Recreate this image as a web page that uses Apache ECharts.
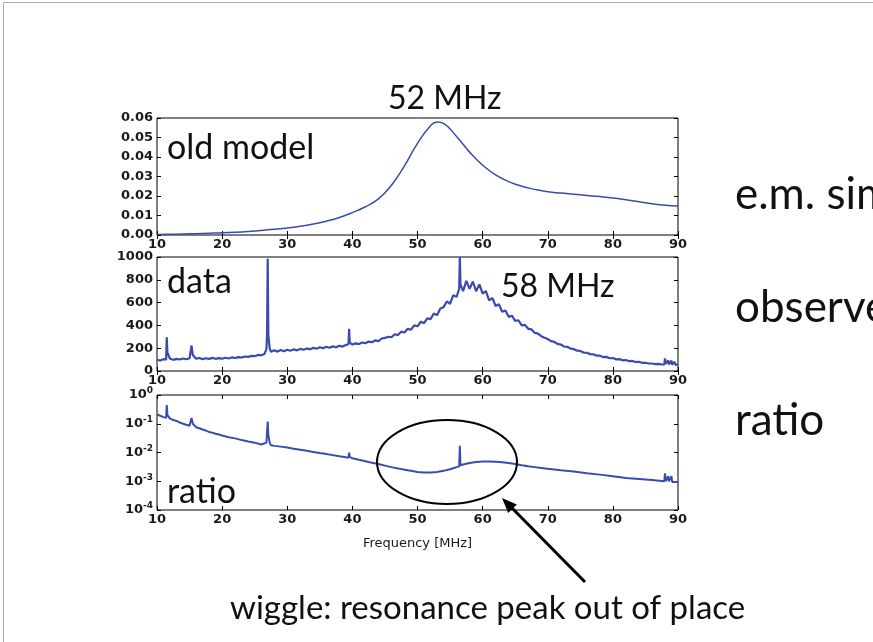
<!DOCTYPE html>
<html>
<head>
<meta charset="utf-8">
<script src="https://cdn.jsdelivr.net/npm/echarts@6/dist/echarts.min.js"></script>
<style>
    html, body { margin: 0; padding: 0; background: #fff; }
    #chart { width: 873px; height: 642px; }
</style>
</head>
<body>
<div id="chart"></div>
<script>
// frequency axis ticks [MHz]
var freqTicks = [10, 20, 30, 40, 50, 60, 70, 80, 90];

// old model, [freq, value]
var oldModel = [
    [10, 0.0003], [12, 0.0004], [14, 0.0005], [16, 0.0007], [18, 0.0009], [20, 0.0011],
    [22, 0.0014], [24, 0.0018], [26, 0.0023], [28, 0.0029], [30, 0.0036], [32, 0.0045],
    [34, 0.0056], [36, 0.0071], [38, 0.0090], [40, 0.0115], [42, 0.0145], [44, 0.0185],
    [46, 0.0255], [48, 0.0355], [50, 0.0470], [52, 0.0560], [53, 0.0580], [54, 0.0572],
    [56, 0.0505], [58, 0.0425], [60, 0.0358], [62, 0.0308], [64, 0.0274], [66, 0.0250],
    [68, 0.0234], [70, 0.0222], [72, 0.0215], [74, 0.0209], [76, 0.0203], [78, 0.0197],
    [80, 0.0190], [82, 0.0181], [84, 0.0171], [86, 0.0160], [88, 0.0152], [90, 0.0149]
];

// measured spectrum, [freq, counts]
var dataSpectrum = [
    [10.0, 98], [10.5, 92], [11.0, 104], [11.4, 100], [11.5, 295], [11.6, 160], [12.0, 108],
    [12.5, 98], [13.0, 106], [13.5, 101], [14.0, 110], [14.5, 103], [15.0, 112], [15.3, 225],
    [15.5, 140], [16.0, 108], [16.5, 114], [17.0, 104], [17.5, 112], [18.0, 106], [18.5, 115],
    [19.0, 107], [19.5, 113], [20.0, 108], [20.5, 116], [21.0, 110], [21.5, 119], [22.0, 114],
    [22.5, 122], [23.0, 118], [23.5, 127], [24.0, 124], [24.5, 133], [25.0, 130], [25.5, 141],
    [26.0, 138], [26.5, 150], [26.8, 190], [26.9, 320], [27.0, 985], [27.1, 310], [27.3, 200],
    [27.5, 168], [28.0, 182], [28.5, 170], [29.0, 185], [29.5, 174], [30.0, 186], [30.5, 178],
    [31.0, 190], [31.5, 181], [32.0, 194], [32.5, 186], [33.0, 198], [33.5, 190], [34.0, 203],
    [34.5, 195], [35.0, 208], [35.5, 199], [36.0, 213], [36.5, 204], [37.0, 216], [37.5, 208],
    [38.0, 222], [38.5, 214], [39.0, 228], [39.4, 235], [39.5, 370], [39.6, 250], [40.0, 232],
    [40.5, 242], [41.0, 236], [41.5, 250], [42.0, 244], [42.5, 258], [43.0, 252], [43.5, 268],
    [44.0, 262], [44.5, 285], [45.0, 290], [45.5, 300], [46.0, 296], [46.5, 322], [47.0, 315],
    [47.5, 345], [48.0, 338], [48.5, 370], [49.0, 362], [49.5, 400], [50.0, 392], [50.5, 432],
    [51.0, 420], [51.5, 462], [52.0, 455], [52.5, 505], [53.0, 490], [53.5, 548], [54.0, 560],
    [54.5, 610], [55.0, 590], [55.5, 665], [56.0, 650], [56.4, 720], [56.5, 1000], [56.6, 760],
    [57.0, 700], [57.5, 790], [58.0, 720], [58.5, 785], [59.0, 700], [59.5, 760], [60.0, 680],
    [60.5, 700], [61.0, 620], [61.5, 640], [62.0, 570], [62.5, 585], [63.0, 520], [63.5, 530],
    [64.0, 475], [64.5, 485], [65.0, 440], [65.5, 445], [66.0, 400], [66.5, 405], [67.0, 370],
    [67.5, 365], [68.0, 335], [68.5, 328], [69.0, 305], [69.5, 292], [70.0, 280], [70.5, 262],
    [71.0, 255], [71.5, 238], [72.0, 232], [72.5, 215], [73.0, 212], [73.5, 196], [74.0, 192],
    [74.5, 178], [75.0, 176], [75.5, 162], [76.0, 160], [76.5, 148], [77.0, 146], [77.5, 134],
    [78.0, 134], [78.5, 122], [79.0, 124], [79.5, 112], [80.0, 114], [80.5, 102], [81.0, 104],
    [81.5, 94], [82.0, 96], [82.5, 86], [83.0, 88], [83.5, 79], [84.0, 80], [84.5, 72],
    [85.0, 72], [85.5, 66], [86.0, 66], [86.5, 61], [87.0, 62], [87.5, 57], [87.9, 58],
    [88.0, 110], [88.1, 62], [88.5, 92], [88.6, 58], [89.0, 90], [89.1, 56], [89.5, 80],
    [89.6, 54], [90.0, 55]
];

// ratio data / model, [freq, ratio]
var ratioSpectrum = [
    [10.0, 0.21], [10.5, 0.19], [11.0, 0.17], [11.4, 0.16], [11.5, 0.45], [11.6, 0.2],
    [12.0, 0.15], [12.5, 0.135], [13.0, 0.125], [13.5, 0.11], [14.0, 0.1], [14.5, 0.092],
    [15.0, 0.085], [15.3, 0.16], [15.5, 0.1], [16.0, 0.076], [16.5, 0.07], [17.0, 0.063],
    [17.5, 0.058], [18.0, 0.052], [18.5, 0.049], [19.0, 0.045], [19.5, 0.042], [20.0, 0.039],
    [21.0, 0.034], [22.0, 0.031], [23.0, 0.027], [24.0, 0.024], [25.0, 0.022], [26.0, 0.019],
    [26.8, 0.022], [27.0, 0.12], [27.1, 0.04], [27.3, 0.022], [27.5, 0.018], [28.0, 0.017],
    [29.0, 0.016], [30.0, 0.015], [31.0, 0.0135], [32.0, 0.0125], [33.0, 0.0115], [34.0, 0.0105],
    [35.0, 0.0096], [36.0, 0.0088], [37.0, 0.0081], [38.0, 0.0074], [39.0, 0.0068], [39.4, 0.0066],
    [39.5, 0.0098], [39.6, 0.007], [40.0, 0.0063], [41.0, 0.0056], [42.0, 0.005], [43.0, 0.0044],
    [44.0, 0.004], [45.0, 0.0035], [46.0, 0.0031], [47.0, 0.0028], [48.0, 0.0025], [49.0, 0.0023],
    [50.0, 0.0021], [51.0, 0.002], [52.0, 0.002], [53.0, 0.0021], [54.0, 0.0023], [55.0, 0.0026],
    [56.0, 0.0031], [56.4, 0.0033], [56.5, 0.017], [56.6, 0.0036], [57.0, 0.0038], [58.0, 0.0043],
    [59.0, 0.0047], [60.0, 0.0049], [61.0, 0.0049], [62.0, 0.0048], [63.0, 0.0046], [64.0, 0.0043],
    [65.0, 0.004], [66.0, 0.0036], [67.0, 0.0033], [68.0, 0.0031], [69.0, 0.0029], [70.0, 0.0027],
    [72.0, 0.0024], [74.0, 0.0022], [76.0, 0.0019], [78.0, 0.0017], [80.0, 0.0015], [82.0, 0.0013],
    [84.0, 0.0012], [86.0, 0.0011], [87.9, 0.001], [88.0, 0.0019], [88.1, 0.001], [88.5, 0.0015],
    [88.6, 0.001], [89.0, 0.0015], [89.1, 0.00095], [90.0, 0.00095]
];

var lineColor = '#3a4bb0';
var tickFont = {color: '#1a1a1a', fontFamily: 'DejaVu Sans', fontWeight: 'bold', fontSize: 13};

function xAxisFor(grid, pos, showLabel) {
    return {
        type: 'value', gridIndex: grid, position: pos,
        min: freqTicks[0], max: freqTicks[freqTicks.length - 1], interval: 10,
        axisLine: {show: false},
        axisTick: {show: true, inside: true, length: 4, lineStyle: {color: '#000'}},
        splitLine: {show: false},
        axisLabel: Object.assign({show: showLabel, margin: 3}, tickFont)
    };
}

function yAxisFor(grid, pos, showLabel, extra) {
    return Object.assign({
        type: 'value', gridIndex: grid, position: pos,
        axisLine: {show: false},
        axisTick: {show: true, inside: true, length: 4, lineStyle: {color: '#000'}},
        splitLine: {show: false},
        axisLabel: Object.assign({show: showLabel, margin: 4}, tickFont)
    }, extra);
}

var y0 = {min: 0, max: 0.06, interval: 0.01};
var y1 = {min: 0, max: 1000, interval: 200};
var y2 = {type: 'log', logBase: 10, min: 0.0001, max: 1, splitNumber: 4};

var chart = echarts.init(document.getElementById('chart'));

var yAxes = [
    yAxisFor(0, 'left', true, y0),
    yAxisFor(1, 'left', true, y1),
    yAxisFor(2, 'left', true, y2),
    yAxisFor(0, 'right', false, y0),
    yAxisFor(1, 'right', false, y1),
    yAxisFor(2, 'right', false, y2)
];
yAxes[0].axisLabel.formatter = function (v) { return v.toFixed(2); };
yAxes[1].axisLabel.formatter = function (v) { return String(v); };
yAxes[2].axisLabel.formatter = function (v) {
    var e = Math.round(Math.log10(v));
    return '{b|10}{s|' + e + '}';
};
yAxes[2].axisLabel.rich = {
    b: {fontFamily: 'DejaVu Sans', fontWeight: 'bold', fontSize: 13, color: '#1a1a1a'},
    s: {fontFamily: 'DejaVu Sans', fontWeight: 'bold', fontSize: 9, color: '#1a1a1a', padding: [0, 0, 8, 0]}
};

var xAxes = [
    xAxisFor(0, 'bottom', true),
    xAxisFor(1, 'bottom', true),
    xAxisFor(2, 'bottom', true),
    xAxisFor(0, 'top', false),
    xAxisFor(1, 'top', false),
    xAxisFor(2, 'top', false)
];
xAxes[2].name = 'Frequency [MHz]';
xAxes[2].nameLocation = 'middle';
xAxes[2].nameGap = 27;
xAxes[2].nameTextStyle = {fontFamily: 'DejaVu Sans', fontSize: 13, color: '#1a1a1a'};

function lineSeries(idx, data, smooth, width) {
    return {
        type: 'line', xAxisIndex: idx, yAxisIndex: idx,
        data: data, smooth: smooth, showSymbol: false, symbol: 'none',
        lineStyle: {color: lineColor, width: width},
        z: 3
    };
}

function label(text, x, y, size, family) {
    return {
        type: 'text', left: x, top: y, z: 10,
        style: {text: text, font: 'normal ' + size + 'px ' + family, fill: '#111'}
    };
}

var option = {
    backgroundColor: '#fff',
    animation: false,
    grid: [
        {left: 157, width: 521, top: 118, height: 117, show: true, borderColor: '#000', borderWidth: 1},
        {left: 157, width: 521, top: 257, height: 114, show: true, borderColor: '#000', borderWidth: 1},
        {left: 157, width: 521, top: 395, height: 115, show: true, borderColor: '#000', borderWidth: 1}
    ],
    xAxis: xAxes,
    yAxis: yAxes,
    series: [
        lineSeries(0, oldModel, true, 1.5),
        lineSeries(1, dataSpectrum, false, 2.2),
        lineSeries(2, ratioSpectrum, false, 2)
    ],
    graphic: [
        // slide frame
        {type: 'line', shape: {x1: 3, y1: 2.5, x2: 873, y2: 2.5}, style: {stroke: '#aaa', lineWidth: 1}},
        {type: 'line', shape: {x1: 3.5, y1: 2, x2: 3.5, y2: 642}, style: {stroke: '#aaa', lineWidth: 1}},
        // in-plot labels
        label('52 MHz', 388, 83, 32, 'Lato'),
        label('old model', 167, 131, 34, 'Lato'),
        label('data', 167, 265, 34, 'Lato'),
        label('58 MHz', 501, 271, 32, 'Lato'),
        label('ratio', 167, 475, 34, 'Lato'),
        // slide bullets
        label('e.m. simulation', 735, 173, 44, 'Lato'),
        label('observed', 735, 286, 44, 'Lato'),
        label('ratio', 735, 399, 44, 'Lato'),
        label('wiggle: resonance peak out of place', 230, 592, 33, 'Lato'),
        // circle and arrow
        {type: 'ellipse', shape: {cx: 447, cy: 462, rx: 70, ry: 42}, z: 10,
            style: {fill: 'none', stroke: '#000', lineWidth: 2}},
        {type: 'line', shape: {x1: 585, y1: 582, x2: 511, y2: 507}, z: 10,
            style: {stroke: '#000', lineWidth: 3}},
        {type: 'polygon', shape: {points: [[502, 498], [516.8, 504.5], [508.2, 512.9]]}, z: 10,
            style: {fill: '#000'}}
    ]
};

chart.setOption(option);
</script>
</body>
</html>
